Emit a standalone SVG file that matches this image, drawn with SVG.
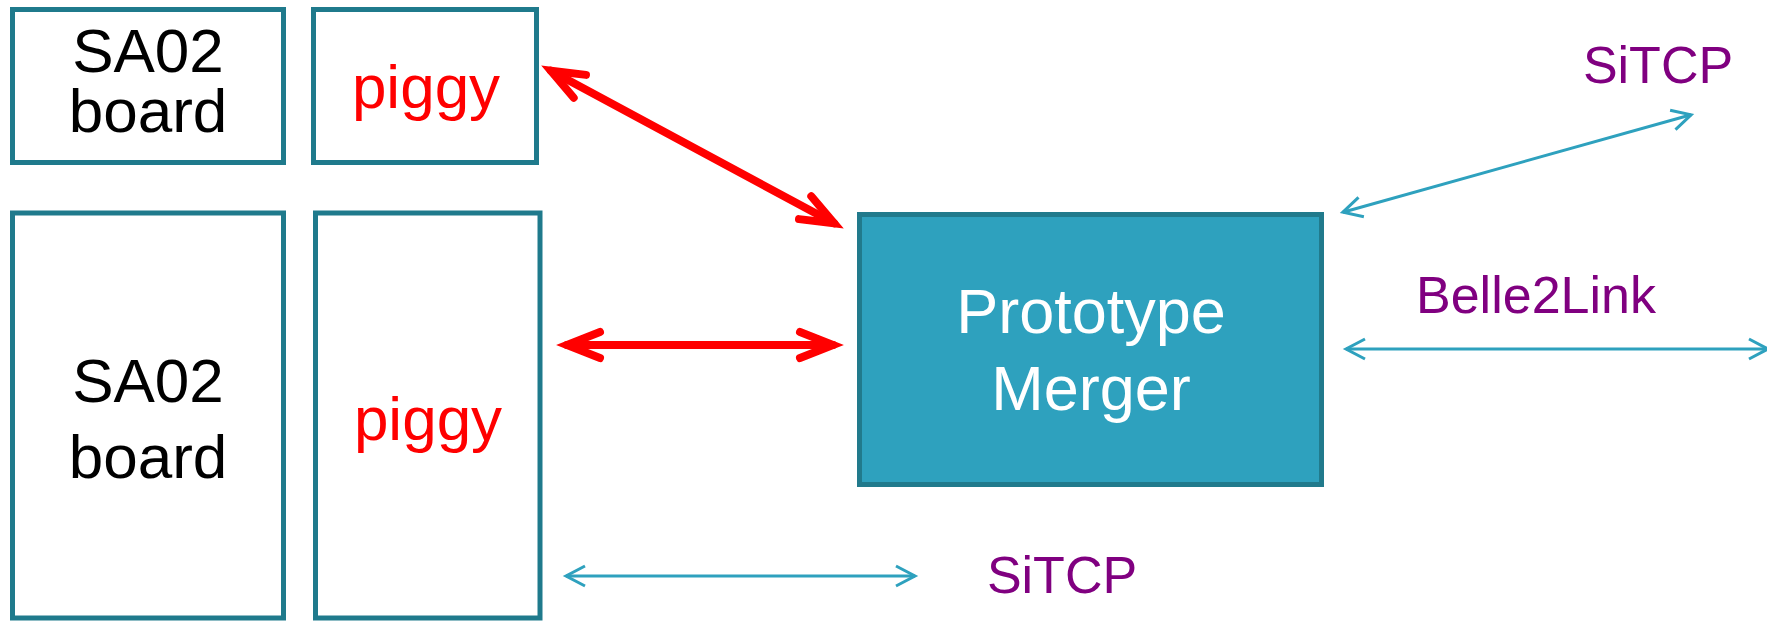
<svg xmlns="http://www.w3.org/2000/svg" width="1767" height="622" viewBox="0 0 1767 622">
  <style>
    .box { fill: #ffffff; stroke: #1f7a8c; stroke-width: 5; }
    .merger { fill: #2ea1be; stroke: #217a8c; stroke-width: 5; }
    .lbl { font-family: "Liberation Sans", Arial, sans-serif; text-anchor: middle; }
    .board { font-size: 62px; fill: #000000; }
    .piggy { font-size: 62px; fill: #ff0000; }
    .mtxt { font-size: 63px; fill: #ffffff; }
    .link { font-size: 52px; fill: #800080; }
    .bus { stroke: #ff0000; stroke-width: 8; fill: none; stroke-linecap: round; }
    .net { stroke: #2ea1be; stroke-width: 3; fill: none; }
  </style>
  <defs>
    <marker id="redHead" markerUnits="userSpaceOnUse" orient="auto-start-reverse" refX="0" refY="0" markerWidth="60" markerHeight="60" viewBox="-40 -30 60 60" overflow="visible">
      <path d="M-33,-13 L0,0 L-33,13" fill="none" stroke="#ff0000" stroke-width="8" stroke-linecap="round" stroke-linejoin="miter"/>
    </marker>
    <marker id="tealHead" markerUnits="userSpaceOnUse" orient="auto-start-reverse" refX="0" refY="0" markerWidth="40" markerHeight="40" viewBox="-25 -20 40 40" overflow="visible">
      <path d="M-19,-10 L0,0 L-19,10" fill="none" stroke="#2ea1be" stroke-width="3" stroke-linejoin="miter"/>
    </marker>
  </defs>

  <rect width="1767" height="622" fill="#ffffff"/>

  <g id="sa02-top">
    <rect class="box" x="12.5" y="9.5" width="271" height="153"/>
    <text class="lbl board" x="148" y="72">SA02</text>
    <text class="lbl board" x="148" y="132">board</text>
  </g>

  <g id="piggy-top">
    <rect class="box" x="313.5" y="9.5" width="223" height="153"/>
    <text class="lbl piggy" x="426" y="108">piggy</text>
  </g>

  <g id="sa02-bottom">
    <rect class="box" x="12.5" y="213" width="271" height="405"/>
    <text class="lbl board" x="148" y="402">SA02</text>
    <text class="lbl board" x="148" y="478">board</text>
  </g>

  <g id="piggy-bottom">
    <rect class="box" x="315.5" y="213" width="224.5" height="405"/>
    <text class="lbl piggy" x="428" y="440">piggy</text>
  </g>

  <g id="merger">
    <rect class="merger" x="859.5" y="214.5" width="462" height="270"/>
    <text class="lbl mtxt" x="1091" y="333">Prototype</text>
    <text class="lbl mtxt" x="1091" y="410">Merger</text>
  </g>

  <g id="connectors">
    <line class="bus" x1="550.8" y1="70.7" x2="834.2" y2="223.3" marker-start="url(#redHead)" marker-end="url(#redHead)"/>
    <line class="bus" x1="567" y1="345" x2="833" y2="345" marker-start="url(#redHead)" marker-end="url(#redHead)"/>
    <line class="net" x1="1342.9" y1="212.2" x2="1691.1" y2="114.8" marker-start="url(#tealHead)" marker-end="url(#tealHead)"/>
    <line class="net" x1="1346" y1="349" x2="1768" y2="349" marker-start="url(#tealHead)" marker-end="url(#tealHead)"/>
    <line class="net" x1="566" y1="576" x2="915" y2="576" marker-start="url(#tealHead)" marker-end="url(#tealHead)"/>
  </g>

  <g id="labels">
    <text class="lbl link" x="1658" y="83">SiTCP</text>
    <text class="lbl link" x="1536" y="313">Belle2Link</text>
    <text class="lbl link" x="1062" y="593">SiTCP</text>
  </g>
</svg>
